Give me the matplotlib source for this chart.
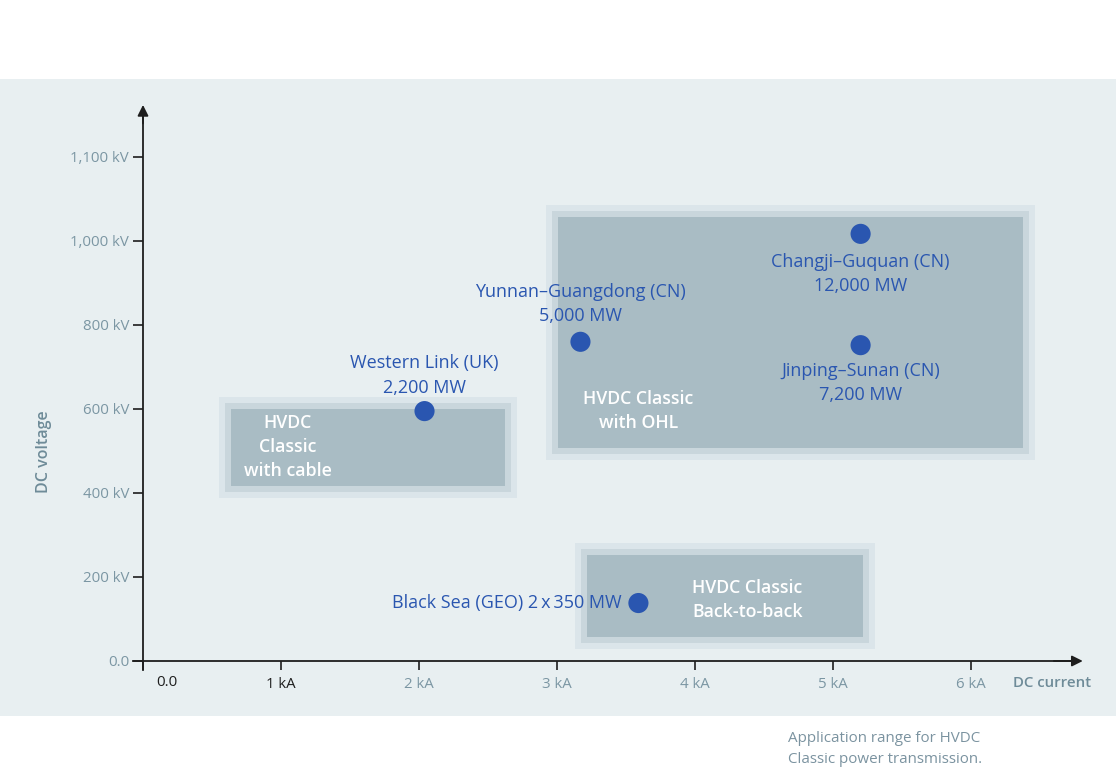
import matplotlib
matplotlib.use("Agg")
import matplotlib.pyplot as plt
from matplotlib.patches import Rectangle

plt.rcParams['font.family'] = ['Open Sans', 'DejaVu Sans']

# data
projects = ["Western Link (UK)\n2,200 MW", "Yunnan\u2013Guangdong (CN)\n5,000 MW",
            "Changji\u2013Guquan (CN)\n12,000 MW", "Jinping\u2013Sunan (CN)\n7,200 MW",
            "Black Sea (GEO) 2\u2009x\u2009350 MW"]
current_ka = [2.04, 3.17, 5.20, 5.20, 3.59]
voltage_kv = [595, 760, 1017, 752, 138]

regions = ["HVDC\nClassic\nwith cable", "HVDC Classic\nwith OHL", "HVDC Classic\nBack-to-back"]
region_x = [(0.64, 2.62), (3.01, 6.38), (3.22, 5.22)]
region_y = [(417, 600), (507, 1057), (57, 252)]
region_label_pos = [(1.05, 510), (3.59, 595), (4.38, 146)]

# the top tick sits one full step above 1,000 kV in the original artwork
yticks = [0, 200, 400, 600, 800, 1000, 1200]
ytick_labels = ["0.0", "200 kV", "400 kV", "600 kV", "800 kV", "1,000 kV", "1,100 kV"]
xticks = [0, 1, 2, 3, 4, 5, 6]
xtick_labels = ["", "1 kA", "2 kA", "3 kA", "4 kA", "5 kA", "6 kA"]

W, H = 1116, 772
fig = plt.figure(figsize=(W / 100, H / 100), dpi=100)
fig.patches.append(Rectangle((0, 56 / H), 1, (716 - 79) / H, transform=fig.transFigure,
                             facecolor="#e8eff1", edgecolor="none", zorder=-5))

# axes placed so that 0 kA -> px 143, 1 kA = 138 px, 0 kV -> py 661, 1 kV = 0.42 px
px0, px1, py0, py1 = 100, 1100, 90, 700
ax = fig.add_axes([px0 / W, (H - py1) / H, (px1 - px0) / W, (py1 - py0) / H])
ax.set_xlim((px0 - 143) / 138, (px1 - 143) / 138)
ax.set_ylim((661 - py1) / 0.42, (661 - py0) / 0.42)
ax.patch.set_alpha(0)

grey = "#7b96a3"
dark = "#1e1e1e"
blue = "#2a56b0"

# shaded regions, three nested layers
padx, pady = 6 / 138, 6 / 0.42
for (x0, x1), (y0, y1) in zip(region_x, region_y):
    for k, col in [(2, "#dbe5ea"), (1, "#c9d6dc"), (0, "#a9bcc4")]:
        ax.add_patch(Rectangle((x0 - k * padx, y0 - k * pady),
                               (x1 - x0) + 2 * k * padx, (y1 - y0) + 2 * k * pady,
                               facecolor=col, edgecolor="none", zorder=1))
for lab, (lx, ly) in zip(regions, region_label_pos):
    ax.text(lx, ly, lab, ha="center", va="center", color="white", fontsize=12.8,
            fontweight="semibold", linespacing=1.42, zorder=3)

# axes lines
for s in ["top", "right"]:
    ax.spines[s].set_visible(False)
ax.spines["left"].set_position(("data", 0))
ax.spines["bottom"].set_position(("data", 0))
ax.spines["left"].set_bounds(-21, 1300)
ax.spines["bottom"].set_bounds(-0.07, 6.75)
for s in ["left", "bottom"]:
    ax.spines[s].set_color(dark)
    ax.spines[s].set_linewidth(1.3)
ax.annotate("", xy=(0, 1324), xytext=(0, 1280),
            arrowprops=dict(arrowstyle="-|>", color=dark, lw=1.3, mutation_scale=16,
                            shrinkA=0, shrinkB=0))
ax.annotate("", xy=(6.81, 0), xytext=(6.6, 0),
            arrowprops=dict(arrowstyle="-|>", color=dark, lw=1.3, mutation_scale=16,
                            shrinkA=0, shrinkB=0))

ax.set_yticks(yticks)
ax.set_yticklabels(ytick_labels)
ax.set_xticks(xticks)
ax.set_xticklabels(xtick_labels)
ax.tick_params(axis="y", direction="out", length=7, width=1.2, color=dark,
               labelsize=10.8, labelcolor=grey, pad=3)
ax.tick_params(axis="x", direction="out", length=6.5, width=1.2, color=dark,
               labelsize=10.8, labelcolor=grey, pad=5)
ax.get_xticklabels()[1].set_color(dark)
ax.text(0.175, (661 - 683) / 0.42, "0.0", ha="center", va="center", color=dark,
        fontsize=10.8, zorder=3)

ax.text((1052 - 143) / 138, (661 - 683) / 0.42, "DC current", ha="center", va="center",
        color="#6e8b98", fontsize=10.8, fontweight="semibold")
ax.text((44 - 143) / 138, (661 - 452) / 0.42, "DC voltage", ha="center", va="center",
        rotation=90, color="#6e8b98", fontsize=11.5, fontweight="semibold")

# projects
ax.scatter(current_ka, voltage_kv, s=210, color=blue, edgecolor="none", zorder=4)
offsets = [(0, 10.5, "center", "bottom"), (0, 12, "center", "bottom"),
           (0, -13.5, "center", "top"), (0, -12, "center", "top"),
           (-12, 0, "right", "center")]
for name, x, y, (dx, dy, ha, va) in zip(projects, current_ka, voltage_kv, offsets):
    ax.annotate(name, (x, y), xytext=(dx, dy), textcoords="offset points",
                ha=ha, va=va, color=blue, fontsize=13, linespacing=1.45, zorder=5)

fig.text(788 / W, (H - 731.5) / H, "Application range for HVDC\nClassic power transmission.",
         ha="left", va="top", color="#7b93a0", fontsize=10.9, linespacing=1.5)

fig.savefig("out.png", dpi=100)
